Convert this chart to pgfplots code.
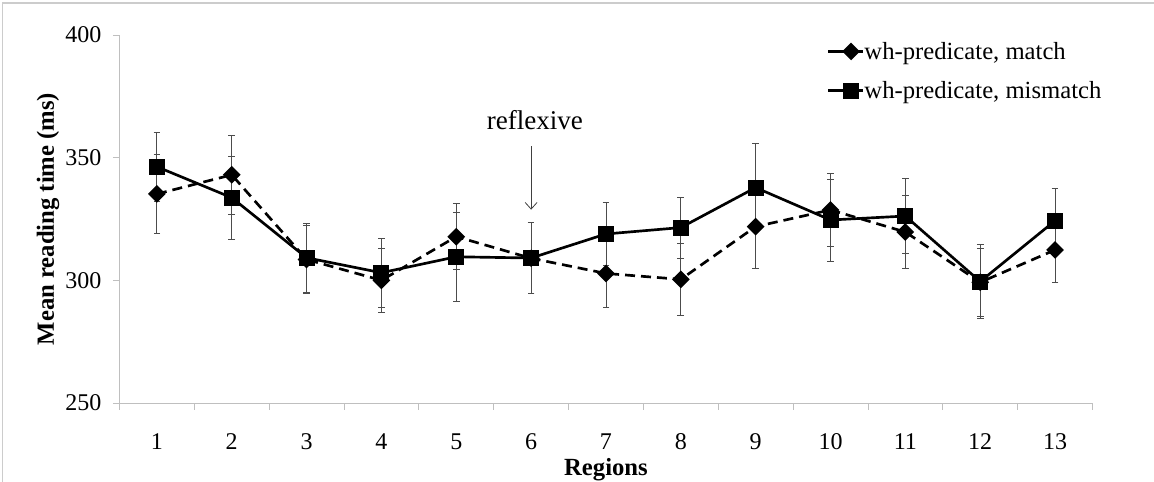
\documentclass[border=0pt]{standalone}
\usepackage{fontspec}
\setmainfont{Liberation Serif}
\usepackage{pgfplots}
\pgfplotsset{compat=1.18}
\usepackage{pgfplotstable}
\usetikzlibrary{arrows.meta}

\pgfplotstableread{
x y e
1 335.2 16
2 343.0 16
3 308.5 14
4 300.0 13
5 317.8 13.5
6 309.0 14.5
7 302.8 14
8 300.4 14.7
9 321.9 17
10 328.7 14.9
11 319.7 14.8
12 299.2 14
13 312.4 13.3
}\matchtbl

\pgfplotstableread{
x y e
1 346.3 14
2 333.7 17
3 309.2 14
4 303.1 14
5 309.6 18
6 309.1 14.5
7 318.9 13
8 321.5 12.5
9 337.8 18
10 324.6 16.7
11 326.2 15.4
12 299.5 15
13 324.3 13.2
}\mismatchtbl

\newcommand\fs{\fontsize{18}{21}\selectfont}
\newcommand\fl{\fontsize{18.5}{22}\selectfont}
\newcommand\fr{\fontsize{20.3}{24}\selectfont}

\begin{document}
\begin{tikzpicture}
\useasboundingbox (-89.6pt,-59.25pt) rectangle (775.9pt,302.25pt);
\clip (-89.6pt,-59.25pt) rectangle (775.9pt,302.25pt);
\draw[gray!40, line width=0.8pt] (-87.4pt,-60pt) -- (-87.4pt,300pt) -- (780pt,300pt);
\begin{axis}[
  at={(0pt,0pt)}, anchor=south west,
  scale only axis,
  width=729.75pt, height=276pt,
  xmin=0.5, xmax=13.5,
  ymin=250, ymax=400,
  axis x line*=bottom, axis y line*=left,
  axis line style={gray!50, line width=0.6pt},
  every tick/.style={gray!50, line width=0.6pt},
  tick align=outside,
  major tick length=5pt,
  xtick={0.5,1.5,...,13.5},
  x tick label as interval,
  xticklabels={1,2,3,4,5,6,7,8,9,10,11,12,13},
  ytick={250,300,350,400},
  /pgf/number format/assume math mode=true,
  tick label style={font=\fs, text=black},
  xticklabel style={anchor=base, yshift=-30pt},
  yticklabel style={anchor=east, xshift=-5pt},
  ylabel={\textbf{Mean reading time (ms)}},
  xlabel={\textbf{Regions}},
  label style={font=\fl},
  ylabel style={at={(axis description cs:-0.0735,0.5)}, anchor=center},
  xlabel style={at={(axis description cs:0.5,0)}, anchor=base, yshift=-54pt},
  legend cell align=left,
  legend style={draw=none, fill=none, font=\fl,
    at={(rel axis cs:0.727,1)}, anchor=north west, yshift=-5pt,
    inner sep=0pt, row sep=15pt,
    nodes={inner sep=0pt}},
  legend image code/.code={
    \draw[#1, solid, mark repeat=2, mark phase=2] plot coordinates {(0pt,0pt) (17pt,0pt) (26pt,0pt)};
  },
  clip=false,
]
\addplot[black, line width=2pt, dash pattern=on 7.5pt off 4.5pt,
  mark=square*, mark size=3.7pt, mark options={solid, rotate=45},
  error bars/.cd, y dir=both, y explicit,
  error bar style={gray!60!black, line width=0.6pt, solid},
  error mark options={gray!60!black, line width=0.6pt, mark size=2.5pt, rotate=90, solid}]
  table[x=x, y=y, y error=e] {\matchtbl};
\addlegendentry{wh-predicate, match}
\addplot[black, line width=2pt, solid,
  mark=square*, mark size=5pt, mark options={solid},
  error bars/.cd, y dir=both, y explicit,
  error bar style={gray!60!black, line width=0.6pt},
  error mark options={gray!60!black, line width=0.6pt, mark size=2.5pt, rotate=90}]
  table[x=x, y=y, y error=e] {\mismatchtbl};
\addlegendentry{wh-predicate, mismatch}
\node[anchor=base, font=\fr] at (axis cs:6.05,361.6) {reflexive};
\draw[black!75, line width=0.6pt, -{Straight Barb[length=5pt,width=9pt]}] (axis cs:6,354.6) -- (axis cs:6,328.8);
\end{axis}
\end{tikzpicture}
\end{document}
